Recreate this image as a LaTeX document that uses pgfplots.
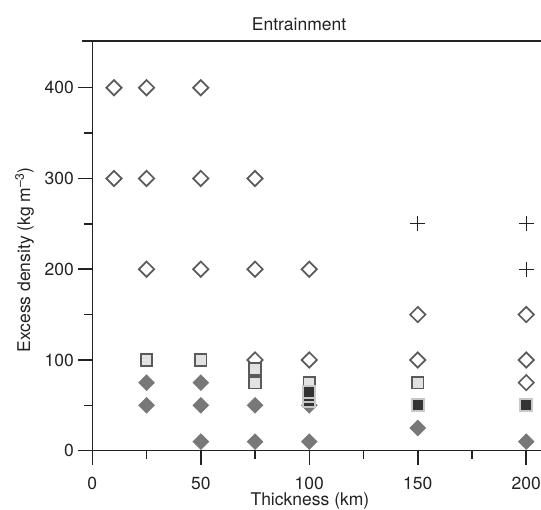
\documentclass[border=0pt]{standalone}
\usepackage{fontspec}
\setmainfont{TeX Gyre Heros}
\usepackage{pgfplots}
\pgfplotsset{compat=1.18}
\definecolor{edgegray}{HTML}{5A5A5A}
\definecolor{fillgray}{HTML}{787878}
\definecolor{lightsq}{HTML}{E2E2E2}
\definecolor{darksq}{HTML}{333333}
\definecolor{darkedge}{HTML}{C8C8C8}
\definecolor{axiscol}{HTML}{222222}
\newcommand{\fs}{\fontsize{17.5bp}{21bp}\selectfont}
\begin{document}
\begin{tikzpicture}
\path[use as bounding box] (-92.3bp,-59.3bp) rectangle (448.7bp,450.7bp);
\begin{axis}[
  scale only axis, width=448.7bp, height=409.7bp,
  at={(0,0)}, anchor=south west,
  xmin=0, xmax=206.8, ymin=0, ymax=451.5,
  axis x line*=bottom, axis y line*=left,
  axis line style={line width=1.5bp, color=axiscol, -},
  every tick/.style={line width=1.5bp, color=axiscol},
  tick align=outside,
  major tick length=14bp,
  xtick={0,50,100,150,200},
  ytick={0,100,200,300,400},
  extra y ticks={50,150,250,350}, extra y tick labels={},
  extra y tick style={major tick length=8bp, tick align=outside},
  /pgf/number format/assume math mode=true,
  tick label style={font=\fs, text=axiscol},
  xticklabel style={yshift=-9bp},
  yticklabel style={xshift=-1bp},
  clip=false,
]
\draw[line width=1.5bp, color=axiscol] (axis cs:-4.75,451.5) -- (axis cs:206.8,451.5);
\draw[line width=1.5bp, color=axiscol] (axis cs:25,0) -- ++(0,-8bp);
\draw[line width=1.5bp, color=axiscol] (axis cs:75,0) -- ++(0,-8bp);
\draw[line width=1.5bp, color=axiscol] (axis cs:125,0) -- ++(0,-8bp);
\draw[line width=1.5bp, color=axiscol] (axis cs:175,0) -- ++(0,-8bp);
\node[font=\fs, text=axiscol, anchor=base] at (axis cs:95.3,463.6) {Entrainment};
\node[font=\fs, text=axiscol, anchor=base] at (axis cs:100.3,-60.3) {Thickness (km)};
\node[font=\fs, text=axiscol, anchor=base, rotate=90] at (axis cs:-28.7,210) {Excess density (kg m\textsuperscript{–3})};
% open diamonds
\addplot[only marks, mark=square, mark size=5.4bp, mark options={rotate=45, draw=edgegray, fill=white, line width=1.7bp}] coordinates {
(10,400) (25,400) (50,400)
(10,300) (25,300) (50,300) (75,300)
(25,200) (50,200) (75,200) (100,200)
(75,100) (100,100) (150,100) (200,100)
(150,150) (200,150) (200,75)
};
% filled diamonds
\addplot[only marks, mark=square*, mark size=5.4bp, mark options={rotate=45, draw=fillgray, fill=fillgray, line width=1bp}] coordinates {
(25,75) (25,50) (50,75) (50,50) (50,10) (75,50) (75,10)
(100,50) (100,10) (150,25) (200,10)
};
% light squares
\addplot[only marks, mark=square*, mark size=5.8bp, mark options={draw=edgegray, fill=lightsq, line width=1.7bp}] coordinates {
(25,100) (50,100) (75,90) (75,75) (100,75) (150,75)
};
% dark squares
\addplot[only marks, mark=square*, mark size=6bp, mark options={draw=darkedge, fill=darksq, line width=1.8bp}] coordinates {
(100,55) (100,60) (100,65) (150,50) (200,50)
};
% plus
\addplot[only marks, mark=+, mark size=7.5bp, mark options={draw=axiscol, line width=1.3bp}] coordinates {
(150,250) (200,250) (200,200)
};
\end{axis}
\end{tikzpicture}
\end{document}
